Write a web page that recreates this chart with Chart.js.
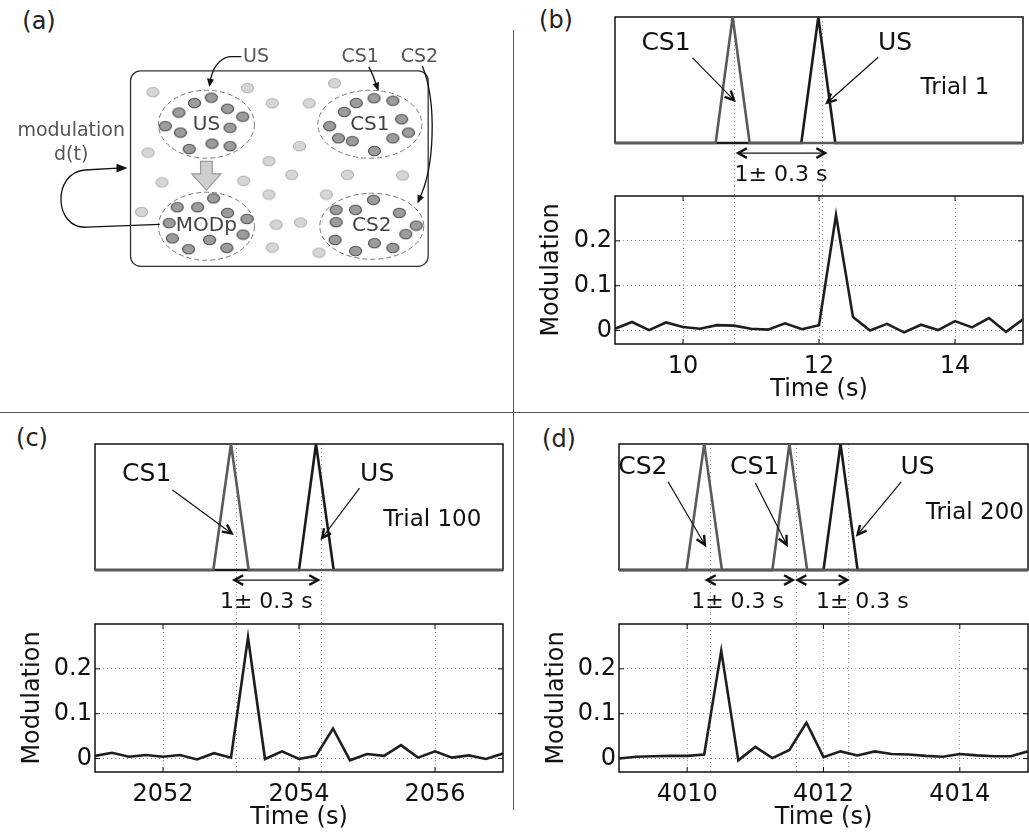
<!DOCTYPE html>
<html><head><meta charset="utf-8">
<script src="https://cdn.jsdelivr.net/npm/chart.js@4"></script>
<style>
html,body{margin:0;padding:0;width:1029px;height:832px;overflow:hidden;background:#fff;}
canvas{position:absolute;}
.lbl{position:absolute;font:24px 'DejaVu Sans',sans-serif;color:#222;transform:translate(-50%,-50%);white-space:nowrap}
.dv{position:absolute;background:#555;z-index:5}
</style></head><body>
<div class="lbl" style="left:39px;top:21px">(a)</div>
<div class="lbl" style="left:556px;top:20px">(b)</div>
<div class="lbl" style="left:32px;top:438px">(c)</div>
<div class="lbl" style="left:559px;top:439px">(d)</div>
<div class="dv" style="left:513px;top:30px;width:1.3px;height:780px"></div>
<div class="dv" style="left:0;top:412px;width:1029px;height:1.3px"></div>
<canvas id="ca" style="left:0;top:0" width="513" height="300"></canvas>
<canvas id="sb" style="left:520px;top:0" width="509" height="186"></canvas>
<canvas id="mb" style="left:520px;top:186px" width="509" height="226"></canvas>
<canvas id="sc" style="left:0;top:414px" width="513" height="200"></canvas>
<canvas id="mc" style="left:0;top:614px" width="513" height="226"></canvas>
<canvas id="sd" style="left:515px;top:414px" width="514" height="200"></canvas>
<canvas id="md" style="left:515px;top:614px" width="514" height="226"></canvas>
<script>
// ---------- data ----------
const timesB = [9,9.25,9.5,9.75,10,10.25,10.5,10.75,11,11.25,11.5,11.75,12,12.25,12.5,12.75,13,13.25,13.5,13.75,14,14.25,14.5,14.75,15];
const modB   = [0.004,0.019,0.001,0.018,0.008,0.004,0.012,0.011,0.004,0.002,0.016,0.003,0.012,0.257,0.030,0.000,0.015,-0.004,0.013,0.001,0.021,0.007,0.028,-0.003,0.025];
const timesC = [2051,2051.25,2051.5,2051.75,2052,2052.25,2052.5,2052.75,2053,2053.25,2053.5,2053.75,2054,2054.25,2054.5,2054.75,2055,2055.25,2055.5,2055.75,2056,2056.25,2056.5,2056.75,2057];
const modC   = [0.006,0.013,0.004,0.008,0.004,0.008,-0.002,0.012,0.002,0.270,-0.001,0.016,-0.001,0.006,0.067,-0.004,0.010,0.006,0.030,0.002,0.016,0.002,0.007,-0.001,0.011];
const timesD = [4009,4009.25,4009.5,4009.75,4010,4010.25,4010.5,4010.75,4011,4011.25,4011.5,4011.75,4012,4012.25,4012.5,4012.75,4013,4013.25,4013.5,4013.75,4014,4014.25,4014.5,4014.75,4015];
const modD   = [0.000,0.004,0.005,0.006,0.006,0.009,0.240,-0.004,0.026,0.001,0.019,0.080,0.003,0.016,0.007,0.016,0.010,0.009,0.006,0.004,0.010,0.007,0.005,0.005,0.016];

const xTicksB = [10,12,14];
const xTicksC = [2052,2054,2056];
const xTicksD = [4010,4012,4014];
const yTicks  = [0,0.1,0.2];

// stimulus onset, peak, offset (s)
const stimLevel = [0,0,1,0,0];
const stimB_CS1 = [10.48,10.73,10.98];
const stimB_US  = [11.74,11.99,12.24];
const stimC_CS1 = [2052.74,2053.0,2053.26];
const stimC_US  = [2054.0,2054.25,2054.51];
const stimD_CS2 = [4009.99,4010.25,4010.51];
const stimD_CS1 = [4011.25,4011.5,4011.76];
const stimD_US  = [4012.0,4012.25,4012.5];

// dotted time markers
const markersB = [10.75,12.05];
const markersC = [2053.07,2054.33];
const markersD = [4010.34,4011.59,4012.36];

// panel (a) neuron positions
const usDots  = [[210,95],[192.7,100.7],[226.7,106.7],[176.7,110.7],[242.3,115],[162.7,125],[178.3,131.7],[229.3,126.7],[210.7,143.3],[229.3,146],[187.3,149]];
const cs1Dots = [[377.3,95.7],[359,100.7],[396.7,98.3],[346.7,110],[405.7,117.7],[331.7,125],[412.7,131.7],[340.7,137.7],[355,140.7],[396.7,137.7],[377.7,151]];
const modDots = [[212.3,200.7],[175,210],[196,210],[226.7,216],[246.7,222.3],[166.7,226.7],[242.7,238.7],[170,242.7],[208.3,244.3],[186.7,254],[226,252.7]];
const cs2Dots = [[376.7,202.3],[338.3,212.7],[358.3,212.7],[403.3,216],[338.3,225.7],[420.7,229.3],[410,238.3],[337.3,244.3],[377.7,247.7],[358.3,256],[396.7,252.7]];
const bgDots  = [[150,89.3],[247.3,85],[336.7,80],[272.7,101],[310.7,101],[145,152.7],[300.7,146],[269.3,161.7],[292.7,176],[350,176],[406.7,176.7],[159.3,184],[243.3,182.3],[269.3,196.7],[328.3,196.7],[138.3,215],[276.7,228.3],[301.7,226],[272.7,252.3],[320.7,257.7]];

// ---------- helpers ----------
const F = "'DejaVu Sans', sans-serif";
Chart.defaults.font.family = F;

function head(ctx,x1,y1,x2,y2,len,spr,filled){
  const a=Math.atan2(y2-y1,x2-x1);
  ctx.beginPath();
  ctx.moveTo(x2-len*Math.cos(a-spr), y2-len*Math.sin(a-spr));
  ctx.lineTo(x2,y2);
  ctx.lineTo(x2-len*Math.cos(a+spr), y2-len*Math.sin(a+spr));
  if(filled){ctx.closePath();ctx.fill();} else ctx.stroke();
}

const framePlugin = {
  id:'frame',
  beforeDatasetsDraw(chart){
    const o=chart.options.plugins.frame, ctx=chart.ctx, ca=chart.chartArea, xs=chart.scales.x, ys=chart.scales.y;
    ctx.save();
    ctx.strokeStyle='#999'; ctx.lineWidth=1; ctx.setLineDash([1.2,2.8]);
    for(const m of o.markers){
      const px=Math.round(xs.getPixelForValue(m))+0.5;
      ctx.beginPath();
      if(o.stim){ctx.moveTo(px,ca.top);ctx.lineTo(px,chart.height);}
      else {ctx.moveTo(px,0);ctx.lineTo(px,ca.bottom);}
      ctx.stroke();
    }
    ctx.setLineDash([]);
    ctx.strokeStyle='#111'; ctx.lineWidth=1.5;
    ctx.strokeRect(ca.left,ca.top,ca.right-ca.left,ca.bottom-ca.top);
    if(!o.stim){
      ctx.lineWidth=1;
      for(const t of ys.ticks){const py=ys.getPixelForValue(t.value);
        ctx.beginPath();ctx.moveTo(ca.left,py);ctx.lineTo(ca.left+5,py);ctx.moveTo(ca.right,py);ctx.lineTo(ca.right-5,py);ctx.stroke();}
      for(const t of xs.ticks){const px=xs.getPixelForValue(t.value);
        ctx.beginPath();ctx.moveTo(px,ca.bottom);ctx.lineTo(px,ca.bottom-5);ctx.moveTo(px,ca.top);ctx.lineTo(px,ca.top+5);ctx.stroke();}
    }
    ctx.restore();
  },
  afterDatasetsDraw(chart){
    const o=chart.options.plugins.frame; if(!o.stim) return;
    const ctx=chart.ctx, xs=chart.scales.x, ys=chart.scales.y;
    const X=v=>xs.getPixelForValue(v), Y=v=>ys.getPixelForValue(v);
    ctx.save();
    ctx.fillStyle='#111'; ctx.textAlign='center'; ctx.textBaseline='middle';
    ctx.font="25px "+F;
    for(const l of o.labels) ctx.fillText(l[0],X(l[1]),Y(l[2]));
    ctx.font="23px "+F;
    ctx.fillText(o.trial[0],X(o.trial[1]),Y(o.trial[2]));
    ctx.strokeStyle='#111';
    for(const a of o.arrows){
      const x1=X(a[0]),y1=Y(a[1]),x2=X(a[2]),y2=Y(a[3]);
      ctx.lineWidth=1.2; ctx.beginPath(); ctx.moveTo(x1,y1); ctx.lineTo(x2,y2); ctx.stroke();
      ctx.lineWidth=2.4; head(ctx,x1,y1,x2,y2,10,0.45,false);
    }
    ctx.font="22px "+F;
    for(const iv of o.intervals){
      const x1=X(iv[0]),x2=X(iv[1]),y=Y(-0.08);
      ctx.lineWidth=1.4; ctx.beginPath(); ctx.moveTo(x1,y); ctx.lineTo(x2,y); ctx.stroke();
      ctx.lineWidth=2.4; head(ctx,x2,y,x1,y,10,0.5,false); head(ctx,x1,y,x2,y,10,0.5,false);
      ctx.fillText("1\u00B1 0.3 s",X(iv[2]),Y(-0.26));
    }
    ctx.restore();
  }
};

function stimChart(id, xmin, xmax, stims, colors, markers, pad, ann){
  new Chart(document.getElementById(id),{
    type:'line',
    data:{datasets: stims.map((s,k)=>({
      data:[xmin,s[0],s[1],s[2],xmax].map((x,i)=>({x:x,y:stimLevel[i]})),
      borderColor:colors[k], borderWidth:2.6, pointRadius:0, tension:0,
      clip:{left:0,top:0,right:0,bottom:4}
    }))},
    options:{animation:false,responsive:false,devicePixelRatio:1,
      layout:{padding:pad},
      plugins:{legend:{display:false},tooltip:{enabled:false},
        frame:Object.assign({stim:true,markers:markers},ann)},
      scales:{x:{type:'linear',min:xmin,max:xmax,display:false},
              y:{type:'linear',min:0,max:1,display:false}}},
    plugins:[framePlugin]
  });
}

function modChart(id, times, vals, xmin, xmax, xticks, markers, yW, rightPad, yTitlePad){
  const tickFont={family:F,size:24};
  new Chart(document.getElementById(id),{
    type:'line',
    data:{datasets:[{data:times.map((t,i)=>({x:t,y:vals[i]})),borderColor:'#1e1e1e',borderWidth:2.6,pointRadius:0,tension:0}]},
    options:{animation:false,responsive:false,devicePixelRatio:1,
      layout:{padding:{left:0,right:rightPad,top:10,bottom:0}},
      plugins:{legend:{display:false},tooltip:{enabled:false},frame:{stim:false,markers:markers}},
      scales:{
        x:{type:'linear',min:xmin,max:xmax,
           afterBuildTicks:s=>{s.ticks=xticks.map(v=>({value:v}));},
           afterFit:s=>{s.height=68;s.paddingLeft=0;s.paddingRight=0;},
           ticks:{font:tickFont,color:'#111',padding:8,maxRotation:0,autoSkip:false,callback:v=>String(v)},
           grid:{color:'#999',lineWidth:1,drawTicks:false},
           border:{display:false,dash:[1.2,2.8]},
           title:{display:true,text:'Time (s)',font:tickFont,color:'#111',padding:{top:0,bottom:8}}},
        y:{type:'linear',min:-0.03,max:0.3,
           afterBuildTicks:s=>{s.ticks=yTicks.map(v=>({value:v}));},
           afterFit:s=>{s.width=yW;s.paddingTop=0;s.paddingBottom=0;},
           ticks:{font:tickFont,color:'#111',padding:3,autoSkip:false,callback:v=>String(v)},
           grid:{color:'#999',lineWidth:1,drawTicks:false},
           border:{display:false,dash:[1.2,2.8]},
           title:{display:true,text:'Modulation',font:tickFont,color:'#111',padding:{top:yTitlePad,bottom:0}}}
      }},
    plugins:[framePlugin]
  });
}

const CSc='#5a5a5a', USc='#1a1a1a';
stimChart('sb',9,15,[stimB_CS1,stimB_US],[CSc,USc],markersB,{left:95,right:6,top:17,bottom:43},
  {labels:[['CS1',9.75,0.79],['US',13.12,0.79]],arrows:[[10.14,0.675,10.75,0.34],[12.87,0.68,12.12,0.32]],
   trial:['Trial 1',14.0,0.44],intervals:[[10.81,12.09,11.44]]});
modChart('mb',timesB,modB,9,15,xTicksB,markersB,95,6,17);

stimChart('sc',2051,2057,[stimC_CS1,stimC_US],[CSc,USc],markersC,{left:95,right:10,top:30,bottom:44},
  {labels:[['CS1',2051.76,0.754],['US',2055.15,0.754]],arrows:[[2052.14,0.635,2053.01,0.29],[2054.89,0.65,2054.34,0.254]],
   trial:['Trial 100',2055.96,0.40],intervals:[[2053.05,2054.28,2053.52]]});
modChart('mc',timesC,modC,2051,2057,xTicksC,markersC,95,10,18);

stimChart('sd',4009,4015,[stimD_CS2,stimD_CS1,stimD_US],[CSc,CSc,USc],markersD,{left:104,right:1,top:30,bottom:44},
  {labels:[['CS2',4009.35,0.81],['CS1',4010.99,0.81],['US',4013.38,0.81]],
   arrows:[[4009.72,0.70,4010.26,0.20],[4011.0,0.69,4011.46,0.20],[4013.14,0.70,4012.5,0.28]],
   trial:['Trial 200',4014.22,0.45],intervals:[[4010.29,4011.55,4010.74],[4011.62,4012.35,4012.57]]});
modChart('md',timesD,modD,4009,4015,xTicksD,markersD,104,1,27);

// ---------- panel (a) ----------
function dotImg(fill,stroke){
  const c=document.createElement('canvas'); c.width=15; c.height=12;
  const g=c.getContext('2d'); g.beginPath(); g.ellipse(7.5,6,6,4.8,0,0,2*Math.PI);
  g.fillStyle=fill; g.fill(); g.strokeStyle=stroke; g.lineWidth=1.1; g.stroke(); return c;
}
const darkDot=dotImg('#9c9c9c','#4a4a4a'), lightDot=dotImg('#d6d6d6','#b0b0b0');
const toPts=a=>a.map(p=>({x:p[0],y:p[1]}));

const diagramPlugin={
  id:'diagram',
  beforeDatasetsDraw(chart){
    const ctx=chart.ctx, xs=chart.scales.x, ys=chart.scales.y;
    const X=v=>xs.getPixelForValue(v), Y=v=>ys.getPixelForValue(v);
    ctx.save();
    ctx.strokeStyle='#333'; ctx.lineWidth=1.3;
    ctx.beginPath(); ctx.roundRect(X(127),Y(67),X(433)-X(127),Y(272)-Y(67),10); ctx.stroke();
    ctx.strokeStyle='#777'; ctx.lineWidth=1; ctx.setLineDash([5,3]);
    for(const e of [[205,123,48,34],[373,123,52,34],[205,230,48,34],[375,230,52,33]]){
      ctx.beginPath(); ctx.ellipse(X(e[0]),Y(e[1]),e[2],e[3],0,0,2*Math.PI); ctx.stroke();
    }
    ctx.setLineDash([]);
    ctx.fillStyle='#cfcfcf'; ctx.strokeStyle='#999'; ctx.lineWidth=1.2;
    ctx.beginPath();
    const poly=[[199,162],[211,162],[211,175],[220,175],[205,192],[190,175],[199,175]];
    poly.forEach((p,i)=>i?ctx.lineTo(X(p[0]),Y(p[1])):ctx.moveTo(X(p[0]),Y(p[1])));
    ctx.closePath(); ctx.fill(); ctx.stroke();
    ctx.restore();
  },
  afterDatasetsDraw(chart){
    const ctx=chart.ctx, xs=chart.scales.x, ys=chart.scales.y;
    const X=v=>xs.getPixelForValue(v), Y=v=>ys.getPixelForValue(v);
    ctx.save();
    ctx.textAlign='center'; ctx.textBaseline='middle';
    ctx.fillStyle='#444'; ctx.font="20px "+F;
    [['US',205,124],['CS1',373,124],['MODp',205,230],['CS2',375,230]].forEach(t=>ctx.fillText(t[0],X(t[1]),Y(t[2])));
    ctx.fillStyle='#555'; ctx.font="19px "+F;
    [['US',256,52],['CS1',363,52],['CS2',424,52],['modulation',66,130],['d(t)',66,155]].forEach(t=>ctx.fillText(t[0],X(t[1]),Y(t[2])));
    ctx.strokeStyle='#111'; ctx.fillStyle='#111'; ctx.lineWidth=1.3;
    ctx.beginPath(); ctx.moveTo(X(241),Y(52)); ctx.lineTo(X(229),Y(52));
    ctx.quadraticCurveTo(X(212),Y(55),X(208),Y(82)); ctx.stroke();
    head(ctx,X(210),Y(70),X(208),Y(84),9,0.4,true);
    ctx.beginPath(); ctx.moveTo(X(372),Y(63)); ctx.quadraticCurveTo(X(377),Y(72),X(381),Y(86)); ctx.stroke();
    head(ctx,X(377),Y(74),X(382),Y(88),9,0.4,true);
    ctx.beginPath(); ctx.moveTo(X(427),Y(62)); ctx.bezierCurveTo(X(442),Y(100),X(440),Y(170),X(423),Y(203)); ctx.stroke();
    head(ctx,X(428),Y(192),X(422),Y(206),9,0.4,true);
    ctx.beginPath(); ctx.moveTo(X(157),Y(228)); ctx.lineTo(X(82),Y(231));
    ctx.bezierCurveTo(X(48),Y(233),X(46),Y(174),X(80),Y(171)); ctx.lineTo(X(114),Y(169)); ctx.stroke();
    head(ctx,X(100),Y(169),X(124),Y(169),12,0.38,true);
    ctx.restore();
  }
};

new Chart(document.getElementById('ca'),{
  type:'scatter',
  data:{datasets:[
    {data:toPts(bgDots),pointStyle:lightDot,pointRadius:6},
    {data:toPts(usDots),pointStyle:darkDot,pointRadius:6},
    {data:toPts(cs1Dots),pointStyle:darkDot,pointRadius:6},
    {data:toPts(modDots),pointStyle:darkDot,pointRadius:6},
    {data:toPts(cs2Dots),pointStyle:darkDot,pointRadius:6}
  ]},
  options:{animation:false,responsive:false,devicePixelRatio:1,layout:{padding:0},
    plugins:{legend:{display:false},tooltip:{enabled:false}},
    scales:{x:{type:'linear',min:0,max:513,display:false},y:{type:'linear',min:0,max:300,reverse:true,display:false}}},
  plugins:[diagramPlugin]
});
</script>
</body></html>
